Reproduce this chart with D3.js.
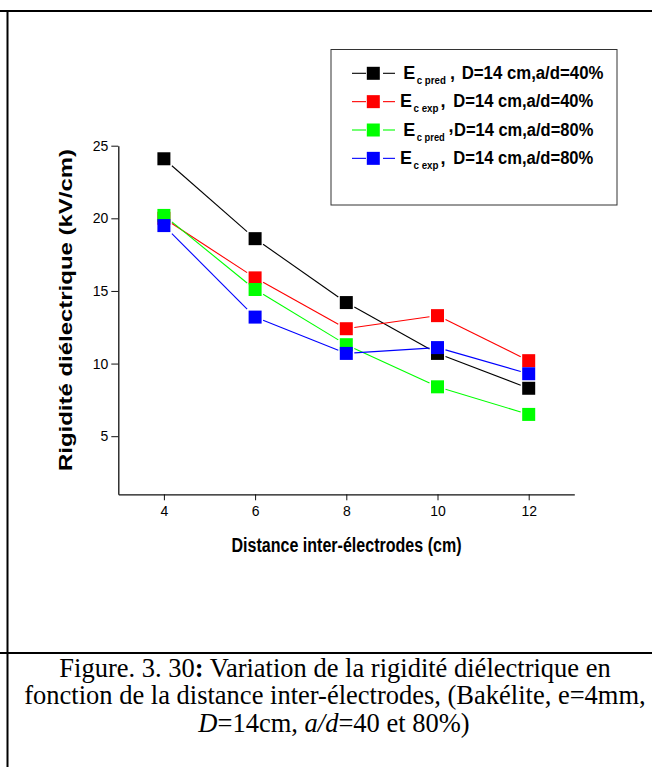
<!DOCTYPE html>
<html><head><meta charset="utf-8">
<script src="https://cdn.jsdelivr.net/npm/d3@7/dist/d3.min.js"></script>
<style>body{margin:0;background:#fff}svg{display:block}</style>
</head><body>
<svg id="c" width="652" height="767"></svg>
<script>
// ---- data ----
const distances = [4, 6, 8, 10, 12];
const ecPred40 = [24.1, 18.6, 14.2, 10.7, 8.3];
const ecExp40  = [20.0, 15.9, 12.4, 13.3, 10.2];
const ecPred80 = [20.2, 15.1, 11.3, 8.4, 6.5];
const ecExp80  = [19.5, 13.2, 10.7, 11.1, 9.3];
const seriesColors = ["#000000", "#ff0000", "#00ff00", "#0000ff"];
const legendSubs = ["c pred", "c exp", "c pred", "c exp"];
const legendLabels = ["D=14 cm,a/d=40%", "D=14 cm,a/d=40%", "D=14 cm,a/d=80%", "D=14 cm,a/d=80%"];
const xTicks = [4, 6, 8, 10, 12];
const xMinor = [3, 5, 7, 9, 11, 13];
const yTicks = [5, 10, 15, 20, 25];
const yMinor = [2.5, 7.5, 12.5, 17.5, 22.5];
const xTitle = "Distance inter-électrodes (cm)";
const yTitle = "Rigidité diélectrique (kV/cm)";

const series = [ecPred40, ecExp40, ecPred80, ecExp80];

const svg = d3.select("#c");
const SANS = "'Liberation Sans', Arial, sans-serif";
const SERIF = "'Liberation Serif', 'Times New Roman', serif";

// table borders
svg.append("line").attr("x1",0).attr("x2",652).attr("y1",11).attr("y2",11).attr("stroke","#000").attr("stroke-width",2);
svg.append("line").attr("x1",0).attr("x2",652).attr("y1",653).attr("y2",653).attr("stroke","#000").attr("stroke-width",2);
svg.append("line").attr("x1",7.5).attr("x2",7.5).attr("y1",10).attr("y2",767).attr("stroke","#000").attr("stroke-width",2);

const x = d3.scaleLinear().domain([3, 13]).range([118.3, 574.3]);
const y = d3.scaleLinear().domain([1, 25]).range([494.3, 145.7]);

// axes
const gx = svg.append("g").attr("transform","translate(0,494.3)");
gx.call(d3.axisBottom(x).tickValues(xMinor).tickFormat("").tickSize(4).tickSizeOuter(0));
gx.call(d3.axisBottom(x).tickValues(xTicks).tickSize(6).tickPadding(6).tickSizeOuter(0));
const gy = svg.append("g").attr("transform","translate(118.3,0)");
gy.call(d3.axisLeft(y).tickValues(yMinor).tickFormat("").tickSize(4).tickSizeOuter(0));
gy.call(d3.axisLeft(y).tickValues(yTicks).tickSize(7).tickPadding(3).tickSizeOuter(0));
svg.selectAll(".domain").attr("stroke","#111").attr("stroke-width",1.3);
svg.selectAll(".tick line").attr("stroke","#111").attr("stroke-width",1);
svg.selectAll(".tick text").attr("font-family",SANS).attr("font-size",14).attr("fill","#000");

// axis titles
svg.append("text").attr("x",346.5).attr("y",552).attr("text-anchor","middle")
  .attr("font-family",SANS).attr("font-weight","bold").attr("font-size",20)
  .attr("textLength",230).attr("lengthAdjust","spacingAndGlyphs").text(xTitle);
svg.append("text").attr("transform","translate(72,310) rotate(-90)").attr("text-anchor","middle")
  .attr("font-family",SANS).attr("font-weight","bold").attr("font-size",18)
  .attr("textLength",322).attr("lengthAdjust","spacingAndGlyphs").text(yTitle);

// series lines (with gaps around markers) and markers
const H = 8;
series.forEach((vals, si) => {
  const g = svg.append("g");
  for (let i = 0; i < vals.length - 1; i++) {
    const x0 = x(distances[i]), y0 = y(vals[i]), x1 = x(distances[i+1]), y1 = y(vals[i+1]);
    const dx = x1 - x0, dy = y1 - y0, t = H / Math.max(Math.abs(dx), Math.abs(dy));
    g.append("line").attr("x1", x0 + t*dx).attr("y1", y0 + t*dy)
      .attr("x2", x1 - t*dx).attr("y2", y1 - t*dy)
      .attr("stroke", seriesColors[si]).attr("stroke-width", 1.1);
  }
});
series.forEach((vals, si) => {
  svg.append("g").selectAll("rect").data(vals).join("rect")
    .attr("x", (d,i) => x(distances[i]) - 6.5).attr("y", d => y(d) - 6.5)
    .attr("width", 13).attr("height", 13).attr("fill", seriesColors[si]);
});

// legend
svg.append("rect").attr("x",331).attr("y",49.5).attr("width",286).attr("height",155.5)
  .attr("fill","#fff").attr("stroke","#333").attr("stroke-width",1);
const ex = [403.3, 400, 403.3, 400];
const subW = [29, 25, 28, 25];
const commaX = [450, 440.5, 448.5, 440.5];
const commaDy = [0, 0, -4, 0];
const labX = [461.7, 453.3, 454, 453.3];
const labW = [141.7, 140, 139.3, 140];
seriesColors.forEach((c, i) => {
  const cy = 73.3 + i * 28.35, base = cy + 5.5;
  svg.append("line").attr("x1",352).attr("x2",366).attr("y1",cy).attr("y2",cy).attr("stroke",c).attr("stroke-width",1.1);
  svg.append("line").attr("x1",383).attr("x2",395).attr("y1",cy).attr("y2",cy).attr("stroke",c).attr("stroke-width",1.1);
  svg.append("rect").attr("x",373.3-6.5).attr("y",cy-6.5).attr("width",13).attr("height",13).attr("fill",c);
  svg.append("text").attr("x",ex[i]).attr("y",base).attr("font-family",SANS).attr("font-weight","bold")
    .attr("font-size",18).text("E");
  svg.append("text").attr("x",ex[i]+13.5).attr("y",base+5).attr("font-family",SANS).attr("font-weight","bold")
    .attr("font-size",11).attr("textLength",subW[i]).attr("lengthAdjust","spacingAndGlyphs").text(legendSubs[i]);
  svg.append("text").attr("x",commaX[i]).attr("y",base+commaDy[i]).attr("font-family",SANS).attr("font-weight","bold")
    .attr("font-size",18).text(",");
  svg.append("text").attr("x",labX[i]).attr("y",base).attr("font-family",SANS).attr("font-weight","bold")
    .attr("font-size",18).attr("textLength",labW[i]).attr("lengthAdjust","spacingAndGlyphs").text(legendLabels[i]);
});

// caption
const cap = svg.append("g").attr("font-family",SERIF).attr("font-size",26.5).attr("fill","#000").attr("text-anchor","middle");
const l1 = cap.append("text").attr("x",335).attr("y",676.5);
l1.append("tspan").text("Figure. 3. 30");
l1.append("tspan").attr("font-weight","bold").text(":");
l1.append("tspan").text(" Variation de la rigidité diélectrique en");
cap.append("text").attr("x",335).attr("y",704).text("fonction de la distance inter-électrodes, (Bakélite, e=4mm,");
const l3 = cap.append("text").attr("x",334).attr("y",731.5);
l3.append("tspan").attr("font-style","italic").text("D");
l3.append("tspan").text("=14cm, ");
l3.append("tspan").attr("font-style","italic").text("a/d");
l3.append("tspan").text("=40 et 80%)");
</script>
</body></html>
